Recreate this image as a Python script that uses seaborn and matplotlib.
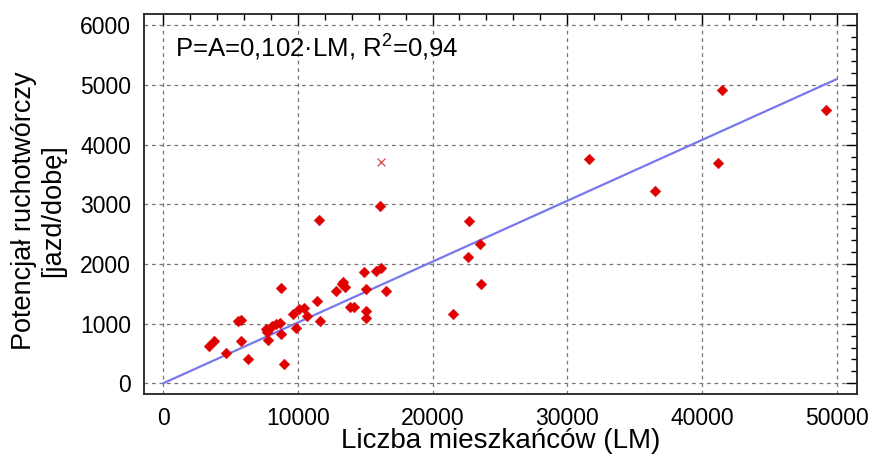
import numpy as np
import pandas as pd
import matplotlib
matplotlib.use("Agg")
import matplotlib.pyplot as plt
from matplotlib.ticker import MultipleLocator
import seaborn as sns

# ---- data ----
lm = [3420, 3770, 4640, 5530, 5750, 5820, 6320, 7630, 7700, 7800,
      8050, 8350, 8670, 8720, 8720, 8990, 9610, 9860, 10100, 10480,
      10650, 11440, 11600, 11640, 12850, 13330, 13300, 13500, 13900, 14170,
      14930, 15040, 15040, 15060, 15800, 16170, 16100, 16540, 21520, 22640,
      22690, 23510, 23600, 31580, 36480, 41210, 41460, 49230]
potential = [630, 703, 502, 1048, 1065, 708, 402, 909, 860, 725,
             964, 993, 1013, 1601, 820, 318, 1155, 931, 1244, 1266,
             1132, 1383, 2746, 1048, 1551, 1702, 1658, 1618, 1273, 1283,
             1869, 1216, 1088, 1574, 1886, 1926, 2974, 1551, 1160, 2110,
             2713, 2333, 1663, 3756, 3232, 3701, 4916, 4576]
outlier_lm = [16150]
outlier_p = [3706]
slope = 0.102
fit_range = [0, 50000]

x_ticks = [0, 10000, 20000, 30000, 40000, 50000]
y_ticks = [0, 1000, 2000, 3000, 4000, 5000, 6000]
equation = "P=A=0,102·LM, R$^2$=0,94"
x_label = "Liczba mieszkańców (LM)"
y_label = "Potencjał ruchotwórczy\n[jazd/dobę]"

# ---- figure ----
sns.set_style("white")
plt.rcParams["font.family"] = ["Liberation Sans", "DejaVu Sans"]
plt.rcParams["mathtext.fontset"] = "custom"
plt.rcParams["mathtext.rm"] = "Liberation Sans"
plt.rcParams["text.color"] = "black"
plt.rcParams["axes.labelcolor"] = "black"

fig = plt.figure(figsize=(8.7, 4.54), dpi=100)
ax = fig.add_axes([0.165, 0.132, 0.820, 0.837])

df = pd.DataFrame({"LM": lm, "P": potential})
fit = pd.DataFrame({"LM": fit_range})
fit["P"] = slope * fit["LM"]
out = pd.DataFrame({"LM": outlier_lm, "P": outlier_p})

sns.lineplot(data=fit, x="LM", y="P", ax=ax, color="#7878ee", linewidth=1.6, zorder=2)
sns.scatterplot(data=df, x="LM", y="P", ax=ax, marker="D", s=30, color="#e00000",
                edgecolor="#e00000", linewidth=0.3, zorder=3)
sns.scatterplot(data=out, x="LM", y="P", ax=ax, marker="x", s=32, color="#d04848",
                linewidth=0.9, zorder=3)

ax.set_xlim(-1450, 51500)
ax.set_ylim(-180, 6190)
ax.set_xticks(x_ticks)
ax.set_yticks(y_ticks)
ax.xaxis.set_minor_locator(MultipleLocator(2000))
ax.yaxis.set_minor_locator(MultipleLocator(200))
ax.tick_params(which="both", direction="in", top=True, right=True,
               labelsize=16.5, colors="black", labelcolor="black", width=1.0)
ax.tick_params(which="major", length=8, pad=9)
ax.tick_params(which="minor", length=4)
ax.grid(True, which="major", linestyle=(0, (3, 3)), color="#777777", linewidth=0.9)
ax.set_axisbelow(True)
for s in ax.spines.values():
    s.set_color("#222222")
    s.set_linewidth(1.3)

ax.set_xlabel(x_label, fontsize=20, labelpad=-1, color="black")
ax.set_ylabel(y_label, fontsize=19.5, labelpad=10, linespacing=1.15, color="black")
ax.yaxis.label.set_y(0.482)
ax.text(0.044, 0.955, equation, transform=ax.transAxes, fontsize=18.5,
        va="top", ha="left", color="black")

fig.savefig("out.png", dpi=100)
